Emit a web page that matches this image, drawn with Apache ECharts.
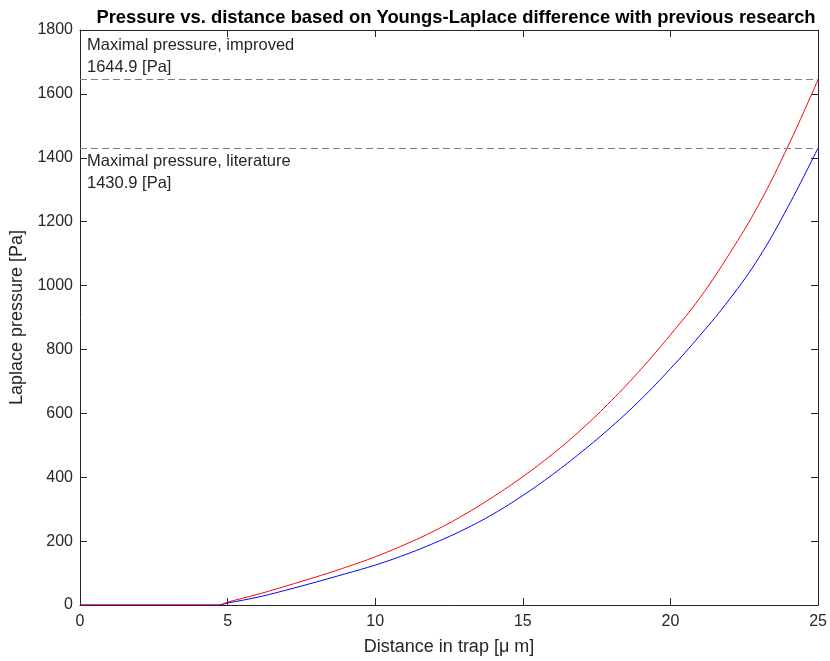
<!DOCTYPE html>
<html>
<head>
<meta charset="utf-8">
<script src="https://cdn.jsdelivr.net/npm/echarts@6/dist/echarts.min.js"></script>
<style>html,body{margin:0;padding:0;background:#fff}#c{width:830px;height:661px}</style>
</head>
<body>
<div id="c"></div>
<script>
var titleText = 'Pressure vs. distance based on Youngs-Laplace difference with previous research';
var xAxisName = 'Distance in trap [\u03bc m]';
var yAxisName = 'Laplace pressure [Pa]';

var improvedX = [0, 4.67, 5, 6, 7, 8, 9, 10, 11, 12, 13, 14, 15, 16, 17, 18, 19, 20, 21, 22, 23, 24, 25];
var improvedY = [0, 0, 9, 33, 60, 88, 118, 151, 189, 232, 282, 339, 402, 472, 551, 640, 738, 846, 962, 1100, 1255, 1440, 1644.9];

var literatureX = [0, 4.7, 5, 6, 7, 8, 9, 10, 11, 12, 13, 14, 15, 16, 17, 18, 19, 20, 21, 22, 23, 24, 25];
var literatureY = [0, 0, 6, 24, 47, 72, 98, 125, 157, 194, 236, 285, 343, 408, 480, 558, 644, 740, 844, 957, 1088, 1250, 1430.9];

var maxImproved = 1644.9;
var maxLiterature = 1430.9;
var improvedLabel = ['Maximal pressure, improved', '1644.9 [Pa]'];
var literatureLabel = ['Maximal pressure, literature', '1430.9 [Pa]'];

var xTicks = [0, 5, 10, 15, 20, 25];
var yTicks = [0, 200, 400, 600, 800, 1000, 1200, 1400, 1600, 1800];

function pairs(xs, ys) { return xs.map(function (x, i) { return [x, ys[i]]; }); }

var FONT = 'Liberation Sans';
var TXT = '#262626';
var AX = '#262626';

var chart = echarts.init(document.getElementById('c'), null, {renderer: 'canvas'});
chart.setOption({
  animation: false,
  backgroundColor: '#ffffff',
  title: {
    text: titleText,
    left: 451, top: 4, textAlign: 'center',
    textStyle: {fontFamily: FONT, fontSize: 18.4, fontWeight: 'bold', color: '#000'}
  },
  grid: {left: 80, right: 11, top: 30, bottom: 53},
  xAxis: [{
    type: 'value', min: xTicks[0], max: xTicks[xTicks.length - 1], interval: xTicks[1] - xTicks[0],
    name: xAxisName, nameLocation: 'middle', nameGap: 33,
    nameTextStyle: {fontFamily: FONT, fontSize: 18, color: TXT},
    axisLine: {onZero: false, lineStyle: {color: AX, width: 1}},
    axisTick: {inside: true, length: 7, lineStyle: {color: AX}},
    axisLabel: {fontFamily: FONT, fontSize: 16, color: TXT, margin: 9},
    splitLine: {show: false}
  }, {
    type: 'value', min: xTicks[0], max: xTicks[xTicks.length - 1], interval: xTicks[1] - xTicks[0], position: 'top',
    axisLine: {onZero: false, lineStyle: {color: AX, width: 1}},
    axisTick: {inside: true, length: 7, lineStyle: {color: AX}},
    axisLabel: {show: false}, splitLine: {show: false}
  }],
  yAxis: [{
    type: 'value', min: yTicks[0], max: yTicks[yTicks.length - 1], interval: yTicks[1] - yTicks[0],
    name: yAxisName, nameLocation: 'middle', nameGap: 51, nameRotate: 90,
    nameTextStyle: {fontFamily: FONT, fontSize: 18, color: TXT},
    axisLine: {onZero: false, lineStyle: {color: AX, width: 1}},
    axisTick: {inside: true, length: 7, lineStyle: {color: AX}},
    axisLabel: {fontFamily: FONT, fontSize: 16, color: TXT, margin: 7, formatter: function (v) { return String(v); }},
    splitLine: {show: false}
  }, {
    type: 'value', min: yTicks[0], max: yTicks[yTicks.length - 1], interval: yTicks[1] - yTicks[0], position: 'right',
    axisLine: {onZero: false, lineStyle: {color: AX, width: 1}},
    axisTick: {inside: true, length: 7, lineStyle: {color: AX}},
    axisLabel: {show: false}, splitLine: {show: false}
  }],
  series: [{
    name: 'literature', type: 'line', data: pairs(literatureX, literatureY),
    showSymbol: false, smooth: 0.4, lineStyle: {color: '#0000ff', width: 1}, z: 3,
    markLine: {
      silent: true, symbol: 'none',
      lineStyle: {color: '#7f7f7f', type: [7, 4], width: 1},
      label: {
        position: 'insideStartBottom', formatter: literatureLabel.join('\n'),
        fontFamily: FONT, fontSize: 16.5, color: TXT, lineHeight: 22, distance: [7, 3], align: 'left'
      },
      data: [{yAxis: maxLiterature}]
    }
  }, {
    name: 'improved', type: 'line', data: pairs(improvedX, improvedY),
    showSymbol: false, smooth: 0.4, lineStyle: {color: '#ff0000', width: 1}, z: 4,
    markLine: {
      silent: true, symbol: 'none',
      lineStyle: {color: '#7f7f7f', type: [7, 4], width: 1},
      label: {
        position: 'insideStartTop', formatter: improvedLabel.join('\n'),
        fontFamily: FONT, fontSize: 16.5, color: TXT, lineHeight: 22, distance: [7, 1], align: 'left'
      },
      data: [{yAxis: maxImproved}]
    }
  }]
});
</script>
</body>
</html>
